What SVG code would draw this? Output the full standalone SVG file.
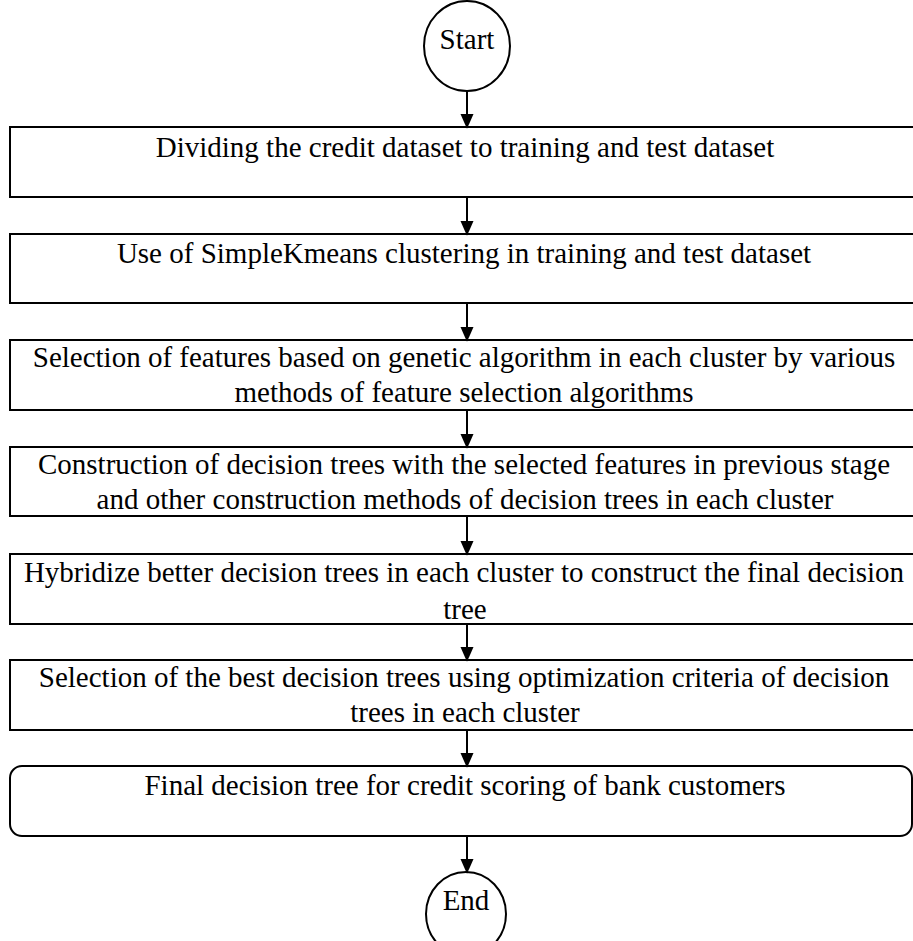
<svg xmlns="http://www.w3.org/2000/svg" width="913" height="941" viewBox="0 0 913 941">
<style>
.box{fill:#fff;stroke:#000;stroke-width:2}
.t{font-family:"Liberation Serif","Times New Roman",serif;font-size:29px;fill:#000;text-anchor:middle}
.c{fill:none;stroke:#000;stroke-width:2}
</style>
<defs>
<marker id="ah" markerWidth="15" markerHeight="17" refX="15" refY="7.5" orient="auto" markerUnits="userSpaceOnUse" viewBox="0 0 17 15">
<path d="M0,0 L17,7.5 L0,15 Z" fill="#000"/>
</marker>
</defs>
<g id="start"><ellipse class="box" cx="467" cy="46" rx="43" ry="45"/><text class="t" x="467" y="49">Start</text></g>
<g id="n1"><rect class="box" x="10" y="127" width="906" height="70"/><text class="t" x="465" y="157">Dividing the credit dataset to training and test dataset</text></g>
<g id="n2"><rect class="box" x="10" y="234" width="906" height="69"/><text class="t" x="464" y="263">Use of SimpleKmeans clustering in training and test dataset</text></g>
<g id="n3"><rect class="box" x="10" y="340" width="906" height="70"/><text class="t" x="464" y="367">Selection of features based on genetic algorithm in each cluster by various</text><text class="t" x="464" y="402">methods of feature selection algorithms</text></g>
<g id="n4"><rect class="box" x="10" y="447" width="906" height="69"/><text class="t" x="464" y="474">Construction of decision trees with the selected features in previous stage</text><text class="t" x="465" y="509">and other construction methods of decision trees in each cluster</text></g>
<g id="n5"><rect class="box" x="10" y="554" width="906" height="70"/><text class="t" x="464" y="582">Hybridize better decision trees in each cluster to construct the final decision</text><text class="t" x="465" y="619">tree</text></g>
<g id="n6"><rect class="box" x="10" y="660" width="906" height="70"/><text class="t" x="464" y="687">Selection of the best decision trees using optimization criteria of decision</text><text class="t" x="465" y="722">trees in each cluster</text></g>
<g id="n7"><rect class="box" x="10" y="766" width="902" height="70" rx="12" ry="12"/><text class="t" x="465" y="795">Final decision tree for credit scoring of bank customers</text></g>
<g id="end"><ellipse class="box" cx="466" cy="914" rx="40" ry="42"/><text class="t" x="466" y="910">End</text></g>
<g id="connectors">
<line class="c" x1="467" y1="91" x2="467" y2="127" marker-end="url(#ah)"/>
<line class="c" x1="467" y1="197" x2="467" y2="234" marker-end="url(#ah)"/>
<line class="c" x1="467" y1="303" x2="467" y2="340" marker-end="url(#ah)"/>
<line class="c" x1="467" y1="410" x2="467" y2="447" marker-end="url(#ah)"/>
<line class="c" x1="467" y1="516" x2="467" y2="554" marker-end="url(#ah)"/>
<line class="c" x1="467" y1="624" x2="467" y2="660" marker-end="url(#ah)"/>
<line class="c" x1="467" y1="730" x2="467" y2="766" marker-end="url(#ah)"/>
<line class="c" x1="467" y1="836" x2="467" y2="872" marker-end="url(#ah)"/>
</g>
</svg>
